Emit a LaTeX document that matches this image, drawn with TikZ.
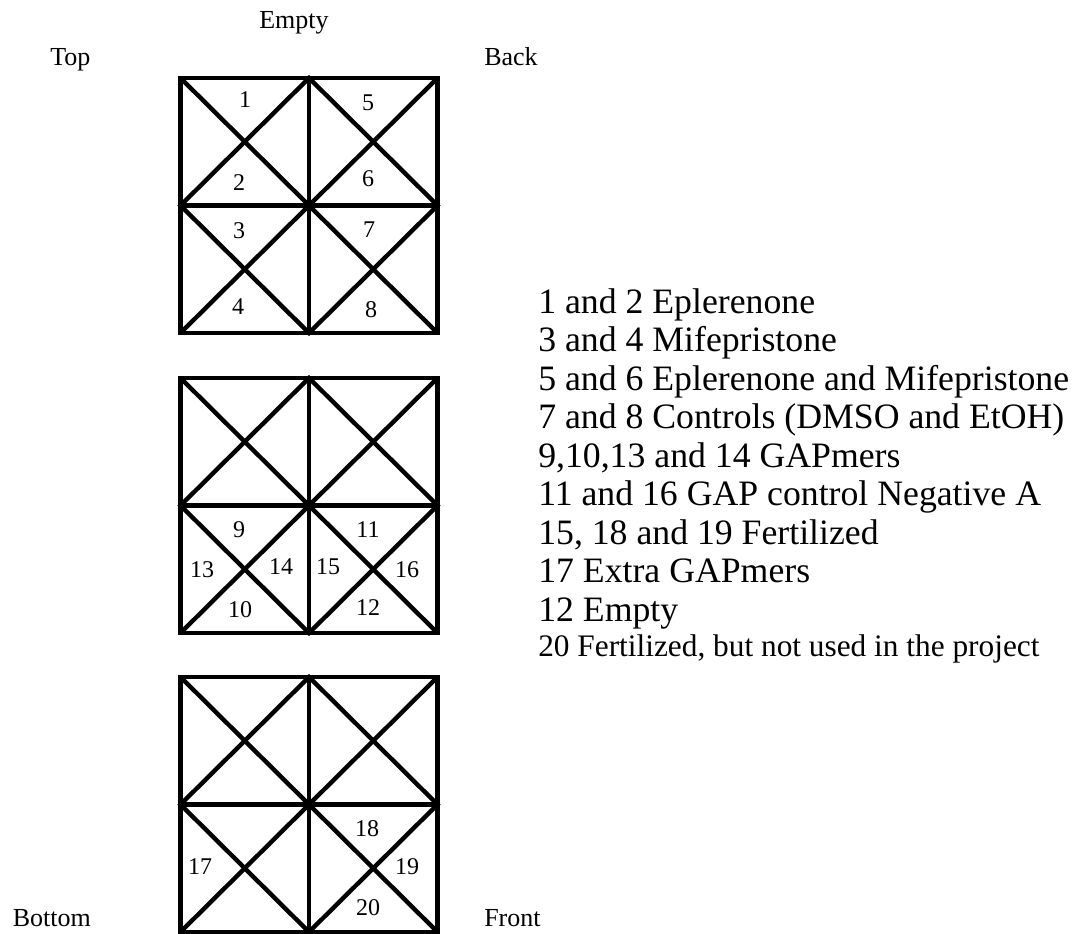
\documentclass[tikz,border=0pt]{standalone}
\usepackage{fontspec}
\setmainfont{Liberation Serif}
\usetikzlibrary{positioning}

\begin{document}
\begin{tikzpicture}[x=0.75pt,y=-0.75pt, every node/.style={inner sep=0pt},
  wall/.style={line width=3.3pt,line join=miter},
  side/.style={font=\fontsize{19.5}{22}\selectfont,anchor=base west},
  num/.style={font=\fontsize{18}{20}\selectfont},
  key/.style={font=\fontsize{26.8}{30}\selectfont,anchor=base west}]
\useasboundingbox (0,0) rectangle (1074,934);

% three trays, four crossed wells each
\foreach \y in {78,378,677}{
  \begin{scope}[shift={(180.5,\y)}]
    \draw[wall] (0,0) rectangle (257,255);
    \draw[wall] (128.5,0) -- (128.5,255) (0,127.5) -- (257,127.5);
    \draw[wall] (0,0) -- (257,255) (257,0) -- (0,255);
    \draw[wall] (128.5,0) -- (0,127.5) -- (128.5,255) -- (257,127.5) -- cycle;
  \end{scope}
}

% well numbers
\foreach \n/\x/\y in {1/245/100,2/239/183,3/239/231,4/238/307,5/368/103,6/368/179,7/369/230,8/371/310,
  9/239/530,10/240/610,11/368/530,12/368/608,13/202/570,14/281/567,15/328/567,16/407/570,
  17/200/867,18/367/829,19/407/867,20/368/908}
  \node[num] (w\n) at (\x,\y) {\n};

% sides of the box
\node[side,anchor=base] (empty) at (294,29) {Empty};
\node[side] (top) at (50,66) {Top};
\node[side] (back) at (484,66) {Back};
\node[side] (bottom) at (12.5,926) {Bottom};
\node[side] (front) at (484,926) {Front};

% legend
\foreach \s [count=\i] in {1 and 2 Eplerenone, 3 and 4 Mifepristone, 5 and 6 Eplerenone and Mifepristone,
  7 and 8 Controls (DMSO and EtOH), {9,10,13 and 14 GAPmers}, 11 and 16 GAP control Negative A,
  {15, 18 and 19 Fertilized}, 17 Extra GAPmers, 12 Empty}
  \node[key] (k\i) at (538,{313+38.5*(\i-1)}) {\s};
\node[key,font=\fontsize{23.5}{26}\selectfont] (k10) at (538,656) {20 Fertilized, but not used in the project};
\end{tikzpicture}
\end{document}
